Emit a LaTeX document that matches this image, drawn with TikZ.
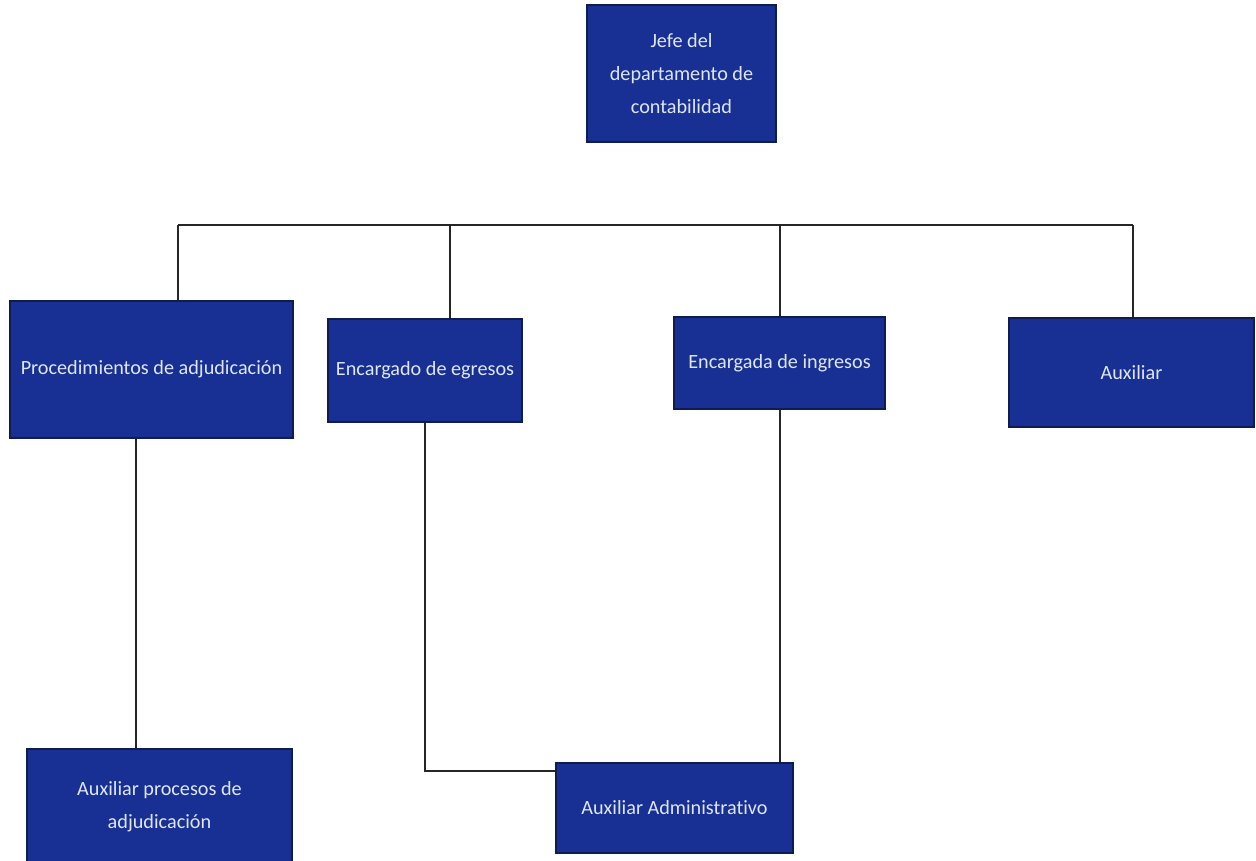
\documentclass[tikz,border=0pt]{standalone}
\usepackage{fontspec}
\setmainfont{Carlito}[Ligatures=NoCommon]
\definecolor{cajaazul}{RGB}{24,48,148}
\definecolor{bordeazul}{RGB}{16,28,80}
\definecolor{textoazul}{RGB}{222,230,246}
\tikzset{
	caja/.style={rectangle,fill=cajaazul,draw=bordeazul,line width=0.8pt,text=textoazul,align=center,
		font=\fontsize{11.5}{19}\selectfont,inner sep=2pt},
	linea/.style={draw=black!85,line width=0.6pt}
}
\begin{document}
\begin{tikzpicture}
	\useasboundingbox (0,0) rectangle (25.12,-17.2);
	
	\node[caja,minimum width=3.78cm,minimum height=2.74cm] (jefe) at (13.63,-1.47) {Jefe del\\departamento de\\contabilidad};
	
	\node[caja,minimum width=5.66cm,minimum height=2.74cm] (proc) at (3.03,-7.39) {Procedimientos de adjudicación};
	\node[caja,minimum width=3.88cm,minimum height=2.06cm] (egr) at (8.50,-7.41) {Encargado de egresos};
	\node[caja,minimum width=4.22cm,minimum height=1.84cm] (ing) at (15.59,-7.26) {Encargada de ingresos};
	\node[caja,minimum width=4.90cm,minimum height=2.18cm] (aux) at (22.63,-7.45) {Auxiliar};
	
	\node[caja,minimum width=5.30cm,minimum height=2.30cm] (auxproc) at (3.19,-16.13) {Auxiliar procesos de\\adjudicación};
	\node[caja,minimum width=4.74cm,minimum height=1.80cm] (auxadm) at (13.49,-16.16) {Auxiliar Administrativo};
	
	% barra horizontal
	\coordinate (barI) at (3.56,-4.5);
	\coordinate (barD) at (22.66,-4.5);
	\draw[linea] (barI) -- (barD);
	\draw[linea] (barI) -- (barI |- proc.north);
	\draw[linea] (9.0,-4.5) coordinate (barE) -- (barE |- egr.north);
	\draw[linea] (15.6,-4.5) coordinate (barG) -- (barG |- ing.north);
	\draw[linea] (barD) -- (barD |- aux.north);
	
	% hacia los auxiliares
	\coordinate (bajP) at (2.72,-8.76);
	\draw[linea] (bajP) -- (bajP |- auxproc.north);
	\coordinate (codo) at (8.5,-15.42);
	\draw[linea] (egr.south) -- (codo) -- (codo -| auxadm.west);
	\draw[linea] (15.6,-8.18) coordinate (bajG) -- (bajG |- auxadm.north);
\end{tikzpicture}
\end{document}
